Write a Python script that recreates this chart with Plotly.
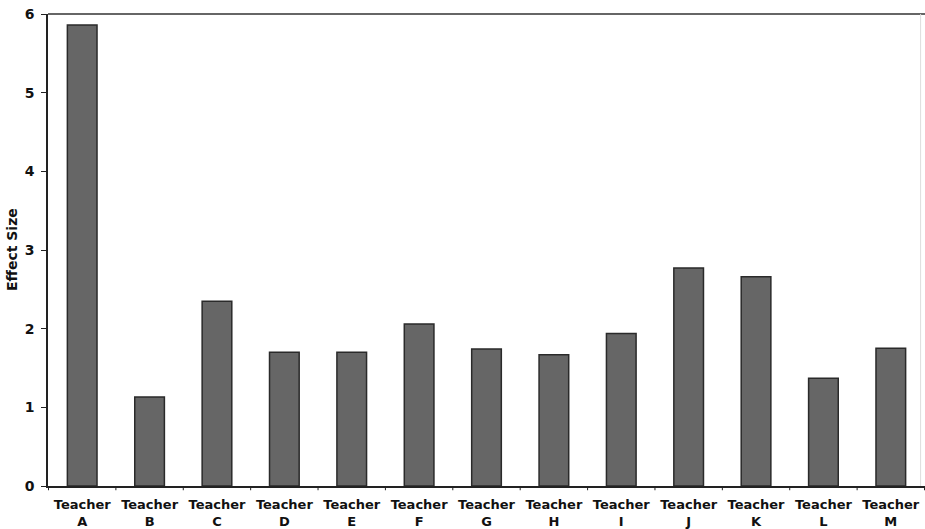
import plotly.graph_objects as go

teachers = ["A", "B", "C", "D", "E", "F", "G", "H", "I", "J", "K", "L", "M"]
tick_labels = ["Teacher<br>" + t for t in teachers]
effect_size = [5.86, 1.13, 2.35, 1.70, 1.70, 2.06, 1.74, 1.67, 1.94, 2.77, 2.66, 1.37, 1.75]

fig = go.Figure(go.Bar(
    x=tick_labels,
    y=effect_size,
    marker=dict(color="#666666", line=dict(color="#2a2a2a", width=1.5)),
    width=0.44,
))

font_family = "DejaVu Sans"
fig.update_layout(
    width=925, height=529,
    margin=dict(l=48, r=0, t=14, b=43, autoexpand=False),
    paper_bgcolor="white", plot_bgcolor="white",
    showlegend=False,
    font=dict(family=font_family, size=12, color="#111111"),
    xaxis=dict(
        automargin=False,
        showline=True, linecolor="#222222", linewidth=1.5, mirror=False,
        ticks="outside", ticklen=6, tickcolor="rgba(0,0,0,0)",
        ticklabeloverflow="allow",
        tickfont=dict(family=font_family, size=13, color="#111111", weight="bold"),
        showgrid=False,
    ),
    yaxis=dict(
        automargin=False,
        range=[0, 6], dtick=1,
        showline=True, linecolor="#222222", linewidth=1.5,
        ticks="outside", ticklen=5, tickcolor="#222222",
        ticklabelstandoff=4,
        ticklabeloverflow="allow",
        tickfont=dict(family=font_family, size=14, color="#111111", weight="bold"),
        showgrid=False, zeroline=False,
    ),
    annotations=[dict(
        text="Effect Size", textangle=-90, showarrow=False,
        xref="paper", yref="paper", x=0, y=0.5, xanchor="center", yanchor="middle",
        xshift=-36,
        font=dict(family=font_family, size=14, color="#111111", weight="bold"),
    )],
)

# top border line and faint right border
fig.add_shape(type="line", xref="paper", yref="paper", x0=0, x1=1, y0=1, y1=1,
              line=dict(color="#333333", width=1.5))
fig.add_shape(type="line", xref="paper", yref="paper", x0=0.995, x1=0.995, y0=0, y1=1,
              line=dict(color="#dddddd", width=1))

# category-boundary ticks on x axis
for i in range(len(teachers) + 1):
    fig.add_shape(type="line", xref="x", yref="paper", x0=i - 0.5, x1=i - 0.5, y0=0, y1=-0.009,
                  line=dict(color="#222222", width=1))

fig.write_html(
    "out.html",
    config={"displayModeBar": False},
    post_script="document.body.style.margin='0';document.documentElement.style.overflow='hidden';",
)
